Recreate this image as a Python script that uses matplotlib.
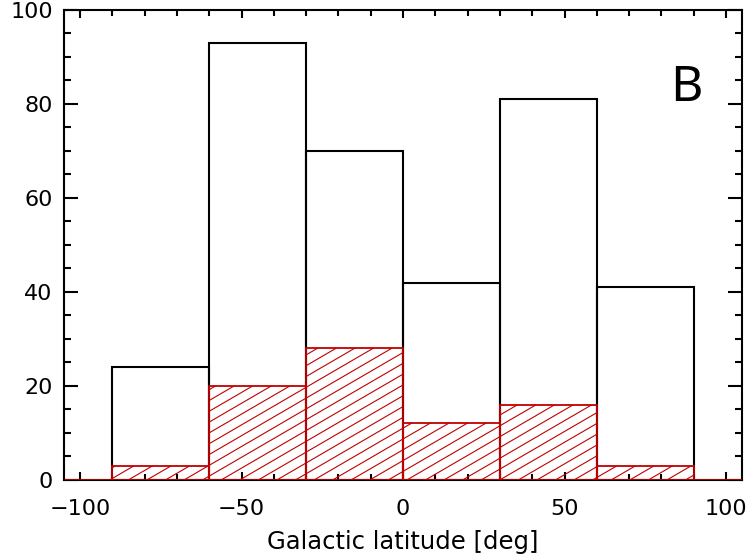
import numpy as np
import matplotlib.pyplot as plt
from matplotlib.collections import LineCollection
from matplotlib.patches import Polygon
from matplotlib.ticker import MultipleLocator

# histogram of galactic latitude, 30 deg bins
bin_edges = [-90, -60, -30, 0, 30, 60, 90]
all_counts = [24, 93, 70, 42, 81, 41]
sub_counts = [3, 20, 28, 12, 16, 3]

black = '#000000'
red = '#c00000'

fig = plt.figure(figsize=(7.52, 5.56), dpi=100)
ax = fig.add_axes([0.085, 0.137, 0.902, 0.845])
ax.set_xlim(-105, 105)
ax.set_ylim(0, 100)

edges = np.array(bin_edges, dtype=float)
widths = np.diff(edges)

# full sample: open black boxes
ax.bar(edges[:-1], all_counts, width=widths, align='edge', fill=False,
       edgecolor=black, linewidth=1.5, zorder=2)

# subsample: red boxes with slanted hatching
slope = 0.40      # data units, ~30 deg on screen
spacing = 2.3
offsets = np.arange(-150, 150, spacing)
xs = np.array([-110, 110])
segs = [np.column_stack([xs, slope * xs + c]) for c in offsets]
for x0, w, h in zip(edges[:-1], widths, sub_counts):
    poly = Polygon([(x0, 0), (x0 + w, 0), (x0 + w, h), (x0, h)],
                   closed=True, fill=False, edgecolor=red, linewidth=1.3,
                   zorder=4)
    ax.add_patch(poly)
    lc = LineCollection(segs, colors=red, linewidths=0.8, zorder=3)
    ax.add_collection(lc)
    lc.set_clip_path(poly)

# zero level outside the binned range
ax.hlines(0, -105, edges[0], color=red, linewidth=2, zorder=4)
ax.hlines(0, edges[-1], 105, color=red, linewidth=2, zorder=4)

ax.xaxis.set_major_locator(MultipleLocator(50))
ax.xaxis.set_minor_locator(MultipleLocator(10))
ax.yaxis.set_major_locator(MultipleLocator(20))
ax.yaxis.set_minor_locator(MultipleLocator(5))
ax.tick_params(axis='both', which='both', direction='in', top=True, right=True,
               width=1.5, labelsize=16)
ax.tick_params(axis='x', which='major', length=6, pad=14)
ax.tick_params(axis='x', which='minor', length=4)
ax.tick_params(axis='y', which='major', length=10, pad=8)
ax.tick_params(axis='y', which='minor', length=5)
for s in ax.spines.values():
    s.set_linewidth(1.5)

ax.set_xlabel('Galactic latitude [deg]', fontsize=17.5, labelpad=8)
ax.text(0.917, 0.835, 'B', transform=ax.transAxes, fontsize=36,
        family='Noto Sans', ha='center', va='center')

fig.savefig('out.png', dpi=100)
